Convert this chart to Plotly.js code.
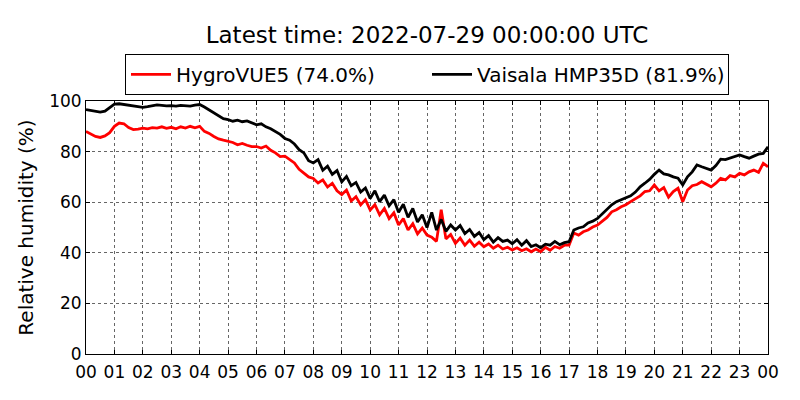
<!DOCTYPE html>
<html>
<head>
<meta charset="utf-8">
<script src="https://cdn.plot.ly/plotly-3.0.1.min.js"></script>
<style>
  body { margin: 0; background: #fff; }
  #rhPlot { width: 800px; height: 400px; }
</style>
</head>
<body>
<div id="rhPlot"></div>
<script>
// relative humidity, 10 minute samples from 00:00 to 24:00 (UTC)
const hygrovue5 = [
  88.0, 87.0, 86.0, 85.6, 86.2, 87.5,
  90.0, 91.3, 91.0, 89.5, 88.7, 88.9,
  89.3, 89.0, 89.5, 89.3, 89.8, 89.2,
  89.6, 89.0, 89.8, 89.3, 90.0, 89.4,
  90.0, 88.0, 87.2, 86.0, 85.0, 84.5,
  84.0, 83.6, 82.7, 83.2, 82.5, 82.0,
  82.0, 81.4, 82.2, 80.5, 79.5, 78.0,
  78.2, 76.8, 75.5, 73.0, 71.5, 70.0,
  69.4, 67.6, 68.8, 66.0, 67.5, 64.5,
  63.0, 64.8, 60.5, 62.2, 58.9, 61.0,
  56.9, 59.0, 55.0, 57.5, 53.5, 55.8,
  51.0, 53.5, 49.0, 51.5, 47.5, 49.8,
  47.0, 46.2, 44.5, 57.0, 45.5, 47.2,
  43.7, 45.8, 43.0, 45.0, 42.6, 44.2,
  42.4, 43.5, 41.8, 43.0, 41.5, 42.2,
  41.1, 42.0, 40.8, 41.6, 40.4, 41.5,
  40.4, 42.2, 41.0, 42.5, 41.8, 43.0,
  43.0, 47.8, 47.0, 48.3, 49.0, 50.2,
  51.0, 52.5, 54.0, 56.2, 57.0, 58.2,
  59.0, 60.2, 61.5, 62.5, 64.2, 64.5,
  66.8, 64.5, 65.8, 62.0, 64.2, 65.5,
  60.2, 64.8, 66.5, 67.0, 68.1, 67.0,
  66.1, 67.5, 69.4, 68.8, 70.5, 70.0,
  71.4, 70.8, 72.0, 72.7, 71.8, 75.4,
  74.0
];

const hmp35d = [
  96.6, 96.2, 95.8, 95.6, 96.0, 97.5,
  98.8, 98.9, 98.6, 98.2, 97.9, 97.6,
  97.5, 97.8, 98.2, 98.5, 98.3, 98.1,
  98.2, 98.0, 98.3, 98.1, 98.0, 98.4,
  98.6, 97.6, 96.5, 95.5, 94.2, 93.0,
  92.6, 92.0, 92.4, 91.8, 92.1, 91.2,
  90.6, 91.0, 89.8, 89.0, 88.0, 86.8,
  85.2, 84.5, 83.0, 80.8, 79.5, 76.4,
  75.5, 76.8, 72.6, 74.2, 71.0, 72.5,
  68.0, 70.2, 66.5, 67.8, 64.0, 65.6,
  61.5, 64.5, 60.2, 62.8, 58.6, 61.0,
  56.0, 59.2, 54.0, 57.5, 52.2, 55.0,
  50.0, 56.0, 49.0, 53.2, 48.5, 51.0,
  49.0, 50.8, 47.6, 49.2, 46.5, 48.0,
  45.2, 46.8, 44.2, 46.0, 44.5, 45.0,
  43.6, 45.2, 43.0, 44.8, 42.5, 43.2,
  42.0, 43.4, 43.0, 44.5, 43.2, 44.0,
  44.4, 49.0, 49.8, 50.3, 51.8, 52.5,
  53.6, 55.5, 57.2, 59.0, 60.2, 61.0,
  61.5, 62.5, 64.0, 66.1, 67.5, 69.0,
  71.0, 72.7, 71.2, 70.8, 70.0, 69.5,
  66.8, 70.0, 72.0, 74.7, 74.0, 73.5,
  72.7, 74.5, 77.0, 76.8, 77.5, 78.0,
  78.7, 78.0, 77.4, 78.2, 79.0, 79.3,
  81.9
];

const hourLabels = ['00', '01', '02', '03', '04', '05', '06', '07', '08', '09', '10', '11',
  '12', '13', '14', '15', '16', '17', '18', '19', '20', '21', '22', '23', '00'];
const hourTicks = hourLabels.map((_, i) => i);

// sample times in hours
const hours = hygrovue5.map((_, i) => i / 6);

const font = 'DejaVu Sans, sans-serif';

const traces = [
  {
    x: hours, y: hygrovue5,
    type: 'scatter', mode: 'lines',
    name: 'HygroVUE5 (74.0%)',
    line: { color: '#ff0000', width: 2.8 }
  },
  {
    x: hours, y: hmp35d,
    type: 'scatter', mode: 'lines',
    name: 'Vaisala HMP35D (81.9%)',
    line: { color: '#000000', width: 2.8 }
  }
];

const axisCommon = {
  showline: true, linecolor: '#000', linewidth: 1, mirror: 'allticks',
  ticks: 'inside', ticklen: 4, tickcolor: '#000',
  showgrid: true, gridcolor: '#000', gridwidth: 0.6, griddash: 'dot',
  zeroline: false,
  tickfont: { family: font, size: 17, color: '#000' }
};

const layout = {
  width: 800, height: 400,
  margin: { l: 86, r: 32, t: 101, b: 46 },
  paper_bgcolor: '#fff', plot_bgcolor: '#fff',
  font: { family: font, color: '#000' },
  title: {
    text: 'Latest time: 2022-07-29 00:00:00 UTC',
    font: { family: font, size: 23, color: '#000' },
    x: 0.5, xref: 'paper', xanchor: 'center',
    y: 0.912, yref: 'container', yanchor: 'middle'
  },
  showlegend: true,
  legend: {
    orientation: 'h',
    x: 0.5, xanchor: 'center',
    y: 1.186, yanchor: 'top',
    bordercolor: '#000', borderwidth: 1, bgcolor: '#fff',
    font: { family: font, size: 20, color: '#000' },
    itemwidth: 40,
    entrywidth: 246
  },
  xaxis: Object.assign({}, axisCommon, {
    range: [0, 24],
    tickmode: 'array', tickvals: hourTicks, ticktext: hourLabels,
    ticklabelstandoff: 3
  }),
  yaxis: Object.assign({}, axisCommon, {
    range: [0, 100],
    tickmode: 'array', tickvals: [0, 20, 40, 60, 80, 100],
    title: { text: 'Relative humidity (%)', font: { family: font, size: 20, color: '#000' }, standoff: 10 }
  })
};

Plotly.newPlot('rhPlot', traces, layout, { displayModeBar: false, staticPlot: true });
</script>
</body>
</html>
